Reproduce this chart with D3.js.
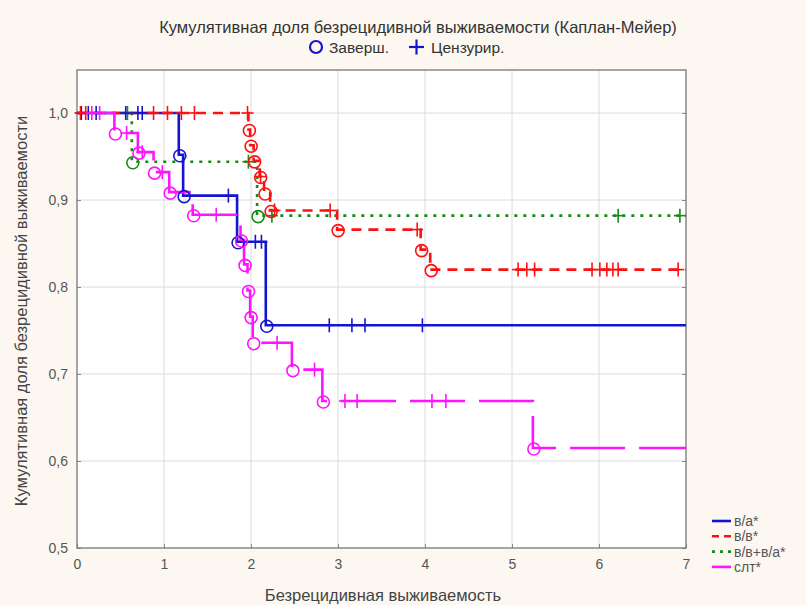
<!DOCTYPE html>
<html><head><meta charset="utf-8">
<script src="https://cdn.jsdelivr.net/npm/d3@7"></script>
<style>body{margin:0;background:#fcf8f1;}svg{display:block;}</style>
</head><body><div id="c"></div>
<script>
const title = "Кумулятивная доля безрецидивной выживаемости (Каплан-Мейер)";
const xLabel = "Безрецидивная выживаемость";
const yLabel = "Кумулятивная доля безрецидивной выживаемости";
const xTicks = [0,1,2,3,4,5,6,7];
const yTicks = [0.5,0.6,0.7,0.8,0.9,1.0];
const seriesNames = ["в/а*","в/в*","в/в+в/а*","слт*"];
const seriesColors = ["#1515d0","#ff1010","#168a16","#ff14ff"];

// blue: в/а*
const blueEventT = [1.17,1.22,1.84,2.17];
const blueEventS = [0.952,0.905,0.852,0.756];
const blueCensT = [0.05,0.13,0.22,0.56,0.70,0.75,1.74,2.05,2.12,2.90,3.16,3.31,3.97];
// red: в/в*
const redEventT = [1.97,1.99,2.03,2.10,2.15,2.22,2.99,3.95,4.06];
const redEventS = [0.981,0.963,0.945,0.927,0.908,0.888,0.866,0.843,0.820];
const redCensT = [0.04,0.10,0.88,1.04,1.20,1.35,1.96,2.11,2.27,2.91,3.91,5.07,5.17,5.26,5.92,6.01,6.09,6.16,6.22,6.91];
// green: в/в+в/а*
const greenEventT = [0.63,2.07];
const greenEventS = [0.944,0.882];
const greenCensT = [0.58,1.97,2.24,6.22,6.93];
// magenta: слт*
const magEventT = [0.43,0.70,0.88,1.06,1.33,1.88,1.92,1.96,1.99,2.02,2.47,2.82,5.24];
const magEventS = [0.977,0.955,0.932,0.909,0.883,0.854,0.826,0.796,0.766,0.736,0.705,0.669,0.615];
const magCensT = [0.17,0.26,0.57,0.75,0.98,1.60,2.30,2.73,3.08,3.22,4.08,4.24];

const W=806,H=605;
const ff="Liberation Sans, Arial";
const svg=d3.select("#c").append("svg").attr("width",W).attr("height",H);
svg.append("rect").attr("width",W).attr("height",H).attr("fill","#fcf8f1");
const x=d3.scaleLinear().domain([0,7]).range([77,686]);
const y=d3.scaleLinear().domain([0.5,1.0]).range([548,113]);
const topY=70;
svg.append("rect").attr("x",77).attr("y",topY).attr("width",609).attr("height",548-topY).attr("fill","#fff");

// grid
const g=svg.append("g");
g.selectAll(".gx").data(xTicks.slice(1,-1)).join("line").attr("x1",d=>x(d)).attr("x2",d=>x(d)).attr("y1",topY).attr("y2",548).attr("stroke","#dcdcdc").attr("stroke-width",1);
g.selectAll(".gy").data(yTicks.slice(1)).join("line").attr("y1",d=>y(d)).attr("y2",d=>y(d)).attr("x1",77).attr("x2",686).attr("stroke","#dcdcdc").attr("stroke-width",1);

// axes
const fmt=d=>d3.format(".1f")(d).replace(".",",");
const ax=svg.append("g").attr("transform","translate(0,548)").call(d3.axisBottom(x).tickValues(xTicks).tickSize(-4).tickPadding(11).tickFormat(d3.format("d")));
const ay=svg.append("g").attr("transform","translate(77,0)").call(d3.axisLeft(y).tickValues(yTicks).tickSize(-4).tickPadding(9).tickFormat(fmt));
[ax,ay].forEach(a=>{a.select(".domain").remove();a.selectAll("line").attr("stroke","#888");a.selectAll("text").attr("font-family",ff).attr("font-size",14).attr("fill","#555");});
svg.append("g").attr("transform","translate(686,0)").call(d3.axisRight(y).tickValues(yTicks).tickSize(-4).tickFormat("")).call(a=>{a.select(".domain").remove();a.selectAll("line").attr("stroke","#888");});
svg.append("rect").attr("x",77).attr("y",topY).attr("width",609).attr("height",548-topY).attr("fill","none").attr("stroke","#777").attr("stroke-width",1.3);

// series
const series=[
 {et:blueEventT,es:blueEventS,ct:blueCensT,dash:null},
 {et:redEventT,es:redEventS,ct:redCensT,dash:"10,7"},
 {et:greenEventT,es:greenEventS,ct:greenCensT,dash:"3,6"},
 {et:magEventT,es:magEventS,ct:magCensT,dash:"55,14"}
];
const legendDash=[null,"7,5","3,5",null];
const stepAt=(s,t)=>{let v=1;s.et.forEach((tt,i)=>{if(tt<=t)v=s.es[i];});return v;};
const line=d3.line().x(d=>x(d[0])).y(d=>y(d[1])).curve(d3.curveStepAfter);
const drawOrder=[2,0,1,3];
drawOrder.forEach(i=>{
  const s=series[i],c=seriesColors[i];
  const pts=[[0,1]].concat(s.et.map((t,k)=>[t,s.es[k]]));
  pts.push([7,s.es[s.es.length-1]]);
  svg.append("path").attr("d",line(pts)).attr("fill","none").attr("stroke",c).attr("stroke-width",2.6).attr("stroke-dasharray",s.dash);
});
drawOrder.forEach(i=>{
  const s=series[i],c=seriesColors[i];
  svg.append("g").selectAll("circle").data(s.et.map((t,k)=>[t,s.es[k]])).join("circle")
    .attr("cx",d=>x(d[0])+1).attr("cy",d=>y(d[1])+1).attr("r",6).attr("fill","none").attr("stroke",c).attr("stroke-width",1.6);
  const cg=svg.append("g");
  s.ct.forEach(t=>{
    const cx=x(t),cy=y(stepAt(s,t));
    cg.append("line").attr("x1",cx-6).attr("x2",cx+6).attr("y1",cy).attr("y2",cy).attr("stroke",c).attr("stroke-width",1.6);
    cg.append("line").attr("x1",cx).attr("x2",cx).attr("y1",cy-7).attr("y2",cy+7).attr("stroke",c).attr("stroke-width",1.6);
  });
});

// titles
svg.append("text").attr("x",418).attr("y",33).attr("text-anchor","middle").attr("font-family",ff).attr("font-size",16.5).attr("fill","#333").text(title);
svg.append("circle").attr("cx",316).attr("cy",47).attr("r",6).attr("fill","none").attr("stroke","#1515d0").attr("stroke-width",2.2);
svg.append("text").attr("x",329).attr("y",53).attr("font-family",ff).attr("font-size",15.5).attr("fill","#333").text("Заверш.");
svg.append("line").attr("x1",409).attr("x2",424).attr("y1",47).attr("y2",47).attr("stroke","#1515d0").attr("stroke-width",2.2);
svg.append("line").attr("x1",416.5).attr("x2",416.5).attr("y1",39.5).attr("y2",54.5).attr("stroke","#1515d0").attr("stroke-width",2.2);
svg.append("text").attr("x",431).attr("y",53).attr("font-family",ff).attr("font-size",15.5).attr("fill","#333").text("Цензурир.");
svg.append("text").attr("x",383).attr("y",601).attr("text-anchor","middle").attr("font-family",ff).attr("font-size",16.5).attr("fill","#444").text(xLabel);
svg.append("text").attr("transform","translate(27,311) rotate(-90)").attr("text-anchor","middle").attr("font-family",ff).attr("font-size",16.5).attr("fill","#444").text(yLabel);

// legend
const lg=svg.append("g");
seriesNames.forEach((n,i)=>{
  const yy=521+i*15.3;
  lg.append("line").attr("x1",712).attr("x2",731).attr("y1",yy).attr("y2",yy).attr("stroke",seriesColors[i]).attr("stroke-width",2.6).attr("stroke-dasharray",legendDash[i]);
  lg.append("text").attr("x",734).attr("y",yy+5).attr("font-family",ff).attr("font-size",14).attr("fill","#555").text(n);
});
</script></body></html>
